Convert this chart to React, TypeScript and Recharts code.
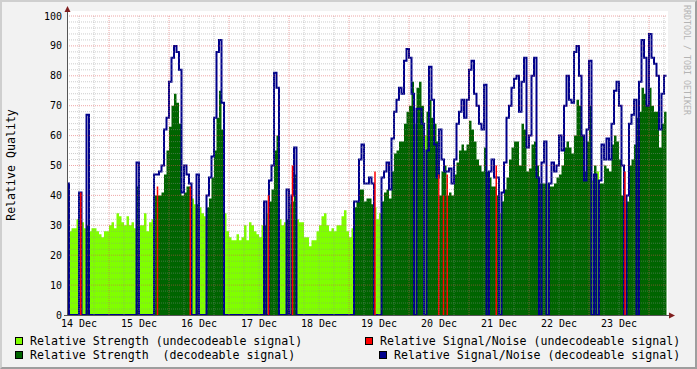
import { ComposedChart, Area, Line, XAxis, YAxis, ReferenceLine } from "recharts";

// hourly samples, first one starts at 13 Dec 19:00 (hour 0 = 14 Dec 00:00)
const START_HOUR = -5;

// relative strength, one value per hour
const strength = [
  32, 28, 29, 29, 32, 30, 31, 29, 30, 28,
  29, 29, 28, 27, 26, 28, 28, 30, 31, 29,
  34, 33, 31, 30, 33, 30, 31, 29, 43, 30,
  30, 34, 28, 31, 32, 40, 40, 40, 41, 47,
  55, 63, 70, 74, 71, 64, 40, 41, 43, 43,
  39, 37, 37, 36, 34, 33, 36, 39, 46, 55,
  66, 75, 62, 34, 28, 26, 25, 25, 27, 25,
  26, 30, 25, 31, 30, 28, 27, 26, 30, 30,
  34, 38, 42, 55, 60, 32, 30, 31, 32, 37,
  38, 47, 32, 31, 31, 26, 26, 23, 25, 25,
  28, 30, 33, 34, 30, 28, 29, 28, 30, 30,
  33, 35, 28, 26, 29, 36, 38, 42, 42, 38,
  39, 39, 37, 36, 32, 34, 38, 41, 42, 39,
  48, 54, 55, 58, 58, 64, 68, 70, 78, 64,
  76, 78, 70, 60, 68, 72, 66, 64, 58, 40,
  48, 50, 40, 41, 40, 47, 51, 55, 57, 55,
  57, 65, 62, 58, 52, 50, 48, 56, 48, 46,
  43, 43, 40, 34, 38, 42, 46, 52, 56, 58,
  58, 50, 64, 62, 48, 49, 57, 58, 50, 44,
  44, 44, 44, 43, 43, 44, 46, 47, 50, 56,
  58, 56, 54, 60, 72, 70, 60, 48, 58, 70,
  45, 50, 48, 44, 44, 50, 49, 48, 57, 60,
  58, 52, 40, 37, 38, 50, 52, 57, 66, 68,
  76, 74, 70, 76, 70, 68, 68, 56, 64, 68,
];

// D = decodeable signal, U = undecodeable
const decodeable =
  "DUUUUDUUDU" + "UUUUUUUUUU" + "UUUUUUUUDU" + "UUUUUDDDDD" +
  "DDDDDDDDDD" + "UUDUUUDDDD" + "DDDUUUUUUU" + "UUUUUUUUUD" +
  "UDDDDUUUDU" + "DDUUUUUUUU" + "UUUUUUUUUU" + "UUUUUDDDDD" +
  "DDDUUUDDDD" + "DDDDDDDDDU" + "DDDUDDDDDD" + "DDDDDDDDDD" +
  "DDDDDDDDDD" + "DDDUDDDDDD" + "DDDDDDDDDD" + "DDUDDDDDDD" +
  "DDDDDDDDDD" + "UDUDDDDDDD" + "DDDUDDDDDD" + "DDDDDDDDDD";

// relative signal/noise while decodeable
const snr = [
  44, 0, 0, 0, 0, 41, 0, 0, 67, 0,
  0, 0, 0, 0, 0, 0, 0, 0, 0, 0,
  0, 0, 0, 0, 0, 0, 0, 0, 51, 0,
  0, 0, 0, 0, 0, 47, 47, 48, 50, 62,
  66, 78, 86, 90, 88, 82, 41, 50, 47, 44,
  0, 0, 47, 0, 0, 0, 40, 46, 53, 66,
  88, 92, 71, 0, 0, 0, 0, 0, 0, 0,
  0, 0, 0, 0, 0, 0, 0, 0, 0, 38,
  0, 45, 50, 81, 76, 0, 0, 0, 42, 0,
  40, 56, 0, 0, 0, 0, 0, 0, 0, 0,
  0, 0, 0, 0, 0, 0, 0, 0, 0, 0,
  0, 0, 0, 0, 0, 38, 38, 52, 57, 44,
  44, 46, 44, 0, 0, 0, 46, 48, 51, 42,
  59, 68, 72, 76, 74, 85, 89, 86, 74, 0,
  69, 69, 64, 0, 55, 83, 72, 57, 46, 62,
  52, 48, 48, 49, 44, 52, 64, 68, 72, 66,
  72, 82, 85, 74, 70, 64, 62, 77, 0, 48,
  52, 46, 46, 0, 41, 51, 66, 70, 76, 79,
  80, 68, 78, 86, 56, 60, 80, 86, 46, 0,
  51, 58, 0, 44, 51, 48, 50, 60, 55, 70,
  80, 72, 71, 88, 90, 80, 60, 45, 62, 85,
  0, 47, 0, 45, 57, 52, 59, 52, 64, 75,
  78, 70, 50, 0, 40, 64, 67, 72, 0, 78,
  92, 86, 70, 94, 86, 84, 80, 62, 74, 80,
];

// signal/noise spikes while undecodeable
const badSnrHours = [0.7, 31.4, 44.5, 75.8, 85.4, 118.4, 143.9, 145.8, 147.3, 166.9, 218.4];
const badSnrValues = [41, 43, 43, 40, 50, 48, 47, 40, 47, 50, 48];

const dayLabels = ["14 Dec", "15 Dec", "16 Dec", "17 Dec", "18 Dec", "19 Dec", "20 Dec", "21 Dec", "22 Dec", "23 Dec"];
const yTicks = [0, 10, 20, 30, 40, 50, 60, 70, 80, 90, 100];

const legendLeft = ["Relative Strength (undecodeable signal)", "Relative Strength  (decodeable signal)"];
const legendRight = ["Relative Signal/Noise (undecodeable signal)", "Relative Signal/Noise (decodeable signal)"];

const LIGHT = "#80ff00";
const DARK = "#006400";
const RED = "#ff0000";
const BLUE = "#00008b";
const MONO = "'DejaVu Sans Mono', monospace";

const X_DOMAIN: [number, number] = [-4.8, 235.2];

export default function App() {
  const rows = strength.map((s, i) => {
    const ok = decodeable[i] === "D";
    return { t: START_HOUR + i, weak: ok ? 0 : s, strong: ok ? s : 0, snr: ok ? snr[i] : 0 };
  });
  rows.push({ ...rows[rows.length - 1], t: START_HOUR + rows.length });

  const spikes: { t: number; red: number | null }[] = [];
  badSnrHours.forEach((h, i) => {
    spikes.push({ t: h, red: 0 }, { t: h, red: badSnrValues[i] }, { t: h, red: null });
  });

  const dayTicks = dayLabels.map((_, k) => k * 24);
  const minorV: number[] = [];
  const majorV: number[] = [];
  for (let h = 0; h <= 234; h += 6) (h % 24 === 12 ? majorV : minorV).push(h);
  const minorH: number[] = [];
  for (let v = 2; v < 100; v += 2) if (v % 10 !== 0) minorH.push(v);
  const majorH = yTicks.filter((v) => v > 0);

  const tickStyle = { fill: "#000", fontSize: 10, fontFamily: MONO };

  return (
    <div
      style={{
        position: "absolute",
        left: 0,
        top: 0,
        width: 697,
        height: 369,
        boxSizing: "border-box",
        background: "#f2f2f2",
        borderTop: "2px solid #cfcfcf",
        borderLeft: "2px solid #cfcfcf",
        borderBottom: "2px solid #9e9e9e",
        borderRight: "2px solid #9e9e9e",
        overflow: "hidden",
      }}
    >
      <div style={{ position: "absolute", left: 65, top: 9, width: 601, height: 304, background: "#fff" }} />
      <div style={{ position: "absolute", left: -2, top: -2 }}>
        <ComposedChart width={697} height={369} data={rows} margin={{ top: 16, right: 30, bottom: 34, left: 7 }}>
          <XAxis
            type="number"
            dataKey="t"
            domain={X_DOMAIN}
            allowDataOverflow
            ticks={dayTicks}
            interval={0}
            tickFormatter={(v: number) => dayLabels[Math.round(v / 24)]}
            tick={tickStyle}
            tickLine={false}
            tickSize={3}
            tickMargin={2}
            axisLine={false}
            height={20}
          />
          <YAxis
            type="number"
            domain={[0, 100]}
            allowDataOverflow
            ticks={yTicks}
            interval={0}
            tick={tickStyle}
            tickLine={false}
            tickSize={3}
            tickMargin={2}
            axisLine={false}
            width={60}
          />
          <Area type="stepAfter" dataKey="weak" stroke="none" fill={LIGHT} fillOpacity={1} isAnimationActive={false} />
          <Area type="stepAfter" dataKey="strong" stroke="none" fill={DARK} fillOpacity={1} isAnimationActive={false} />
          <Line type="stepAfter" dataKey="snr" stroke={BLUE} strokeWidth={2} dot={false} activeDot={false} isAnimationActive={false} />
          <Line
            data={spikes}
            type="linear"
            dataKey="red"
            stroke={RED}
            strokeWidth={1.5}
            dot={false}
            activeDot={false}
            connectNulls={false}
            isAnimationActive={false}
          />
          {minorH.map((v) => (
            <ReferenceLine key={"mh" + v} y={v} stroke="rgba(143,143,143,0.45)" strokeDasharray="1 1" />
          ))}
          {minorV.map((v) => (
            <ReferenceLine key={"mv" + v} x={v} stroke="rgba(143,143,143,0.45)" strokeDasharray="1 1" />
          ))}
          {majorH.map((v) => (
            <ReferenceLine key={"MH" + v} y={v} stroke="rgba(222,79,79,0.5)" strokeDasharray="1 1" />
          ))}
          {majorV.map((v) => (
            <ReferenceLine key={"MV" + v} x={v} stroke="rgba(222,79,79,0.5)" strokeDasharray="1 1" />
          ))}
        </ComposedChart>
      </div>

      <svg width={697} height={369} style={{ position: "absolute", left: -2, top: -2, pointerEvents: "none" }}>
        <line x1={67.5} y1={11} x2={67.5} y2={316} stroke="#555" strokeWidth={1} />
        <line x1={64} y1={315.5} x2={670} y2={315.5} stroke="#555" strokeWidth={1} />
        <polygon points="64.5,12 70.5,12 67.5,6" fill="#801f1f" />
        <polygon points="669,312.5 669,318.5 675,315.5" fill="#801f1f" />
        <text
          transform="translate(15,165) rotate(-90)"
          textAnchor="middle"
          fontFamily={MONO}
          fontSize={11.6}
          fill="#000"
        >
          Relative Quality
        </text>
        <text transform="translate(684,5) rotate(90)" fontFamily={MONO} fontSize={8.3} fill="#b4b4b4">
          RRDTOOL / TOBI OETIKER
        </text>
      </svg>

      {legendLeft.map((label, i) => (
        <div key={label} style={{ position: "absolute", left: 13, top: 335 + i * 14 - 2 }}>
          <div
            style={{
              position: "absolute",
              left: 0,
              top: 2,
              width: 8,
              height: 8,
              boxSizing: "border-box",
              border: "1px solid #000",
              background: i === 0 ? LIGHT : DARK,
            }}
          />
          <div
            style={{
              position: "absolute",
              left: 15,
              top: 0,
              whiteSpace: "pre",
              fontFamily: MONO,
              fontSize: 11.6,
              lineHeight: "13.5px",
              color: "#000",
            }}
          >
            {label}
          </div>
        </div>
      ))}
      {legendRight.map((label, i) => (
        <div key={label} style={{ position: "absolute", left: i === 0 ? 363 : 377, top: 335 + i * 14 - 2 }}>
          <div
            style={{
              position: "absolute",
              left: 0,
              top: 2,
              width: 8,
              height: 8,
              boxSizing: "border-box",
              border: "1px solid #000",
              background: i === 0 ? RED : BLUE,
            }}
          />
          <div
            style={{
              position: "absolute",
              left: 15,
              top: 0,
              whiteSpace: "pre",
              fontFamily: MONO,
              fontSize: 11.6,
              lineHeight: "13.5px",
              color: "#000",
            }}
          >
            {label}
          </div>
        </div>
      ))}
    </div>
  );
}
